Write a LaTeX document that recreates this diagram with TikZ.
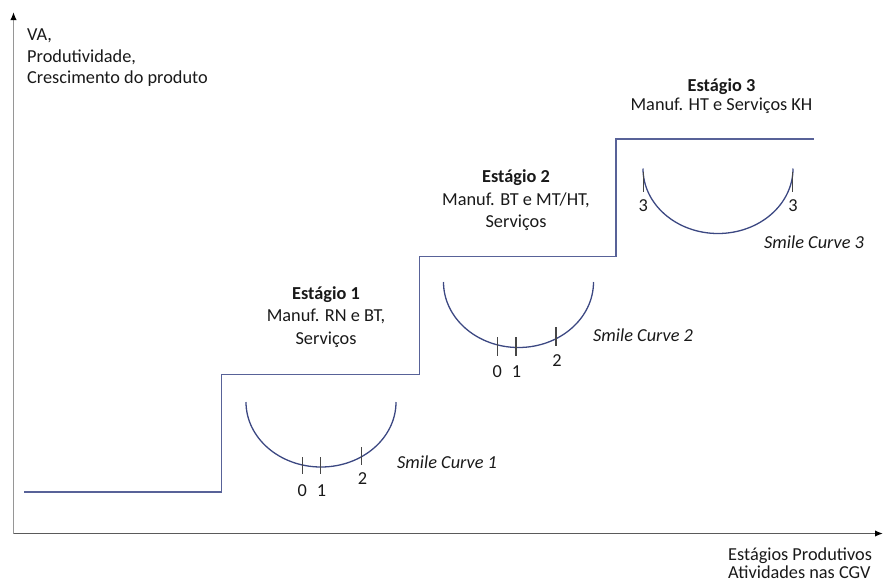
\documentclass[tikz,border=0pt]{standalone}
\usepackage{fontspec}
\setmainfont{Carlito}
\usetikzlibrary{arrows.meta}
\definecolor{stepcol}{RGB}{88,98,152}
\definecolor{curvecol}{RGB}{60,72,130}
\definecolor{tickcol}{RGB}{70,70,70}
\definecolor{yaxcol}{RGB}{150,150,150}
\definecolor{xaxcol}{RGB}{90,90,90}
\definecolor{txtcol}{RGB}{25,25,25}
\tikzset{
  lbl/.style={anchor=base, inner sep=0pt, text=txtcol, font=\fontsize{18.3}{22}\selectfont},
  lblw/.style={lbl, anchor=base west},
  ttl/.style={lbl, font=\fontsize{18.3}{22}\selectfont\bfseries},
  sml/.style={lblw, font=\fontsize{18.3}{22}\selectfont\itshape},
  stepline/.style={draw=stepcol, line width=1.6pt},
  smile/.style={draw=curvecol, line width=1.3pt},
  tickmark/.style={draw=tickcol, line width=1.2pt},
  axis/.style={line width=1.6pt, -{Latex[length=8pt,width=6.5pt,color=black]}}
}
\begin{document}
\begin{tikzpicture}[x=1pt,y=-1pt]
\useasboundingbox (0,0) rectangle (883,587);
% axes
\coordinate (O) at (13.5,533.5);
\coordinate (Ytop) at (13.5,12);
\coordinate (Xend) at (883,533.5);
\draw[axis, yaxcol] (O) -- (Ytop);
\draw[axis, xaxcol] (O) -- (Xend);
% axis labels
\node[lblw] (ya) at (27,40) {VA,};
\node[lblw] (yb) at (27,62) {Produtividade,};
\node[lblw] (yc) at (27,83) {Crescimento do produto};
\node[lblw] (xa) at (728,560) {Estágios Produtivos};
\node[lblw] (xb) at (728,578) {Atividades nas CGV};
% step line
\coordinate (s0) at (24,492);
\coordinate (s1) at (221.5,492);
\coordinate (s2) at (221.5,374.5);
\coordinate (s3) at (419.5,374.5);
\coordinate (s4) at (419.5,256.5);
\coordinate (s5) at (616,256.5);
\coordinate (s6) at (616,139);
\coordinate (s7) at (813.5,139);
\draw[stepline] (s0) -- (s1) -- (s2) -- (s3) -- (s4) -- (s5) -- (s6) -- (s7);
% stage titles
\node[ttl] (e1) at (326,299.5) {Estágio 1};
\node[lbl] (e1a) at (326,321.5) {Manuf. RN e BT,};
\node[lbl] (e1b) at (326,344) {Serviços};
\node[ttl] (e2) at (516,182.5) {Estágio 2};
\node[lbl] (e2a) at (516,205) {Manuf. BT e MT/HT,};
\node[lbl] (e2b) at (516,227) {Serviços};
\node[ttl] (e3) at (721.5,91) {Estágio 3};
\node[lbl] (e3a) at (721.5,110) {Manuf. HT e Serviços KH};
% smile curve 1
\coordinate (c1) at (246,402);
\draw[smile] (c1) arc[start angle=180, end angle=0, x radius=75, y radius=65];
\coordinate (t10a) at (302.3,457); \coordinate (t10b) at (302.3,474);
\coordinate (t11a) at (320.7,457); \coordinate (t11b) at (320.7,474);
\coordinate (t12a) at (361.7,447); \coordinate (t12b) at (361.7,465);
\draw[tickmark] (t10a) -- (t10b);
\draw[tickmark] (t11a) -- (t11b);
\draw[tickmark] (t12a) -- (t12b);
\node[lbl] (n10) at (302.3,496) {0};
\node[lbl] (n11) at (321.5,496) {1};
\node[lbl] (n12) at (362.5,484) {2};
\node[sml] (sc1) at (397,468.5) {Smile Curve 1};
% smile curve 2
\coordinate (c2) at (443.5,282);
\draw[smile] (c2) arc[start angle=180, end angle=0, x radius=75, y radius=65.5];
\coordinate (t20a) at (497.3,337); \coordinate (t20b) at (497.3,355.5);
\coordinate (t21a) at (516,337); \coordinate (t21b) at (516,355.5);
\coordinate (t22a) at (556,327); \coordinate (t22b) at (556,345.5);
\draw[tickmark] (t20a) -- (t20b);
\draw[tickmark] (t21a) -- (t21b);
\draw[tickmark] (t22a) -- (t22b);
\node[lbl] (n20) at (497.3,377) {0};
\node[lbl] (n21) at (516.5,377) {1};
\node[lbl] (n22) at (557,366.5) {2};
\node[sml] (sc2) at (593,341.5) {Smile Curve 2};
% smile curve 3
\coordinate (c3) at (643,168.5);
\draw[smile] (c3) arc[start angle=180, end angle=0, x radius=75, y radius=65];
\coordinate (t30a) at (643.3,172); \coordinate (t30b) at (643.3,192);
\coordinate (t31a) at (792.7,172); \coordinate (t31b) at (792.7,192);
\draw[tickmark] (t30a) -- (t30b);
\draw[tickmark] (t31a) -- (t31b);
\node[lbl] (n30) at (643.3,211.5) {3};
\node[lbl] (n31) at (793,211.5) {3};
\node[sml] (sc3) at (764,248.5) {Smile Curve 3};
\end{tikzpicture}
\end{document}
